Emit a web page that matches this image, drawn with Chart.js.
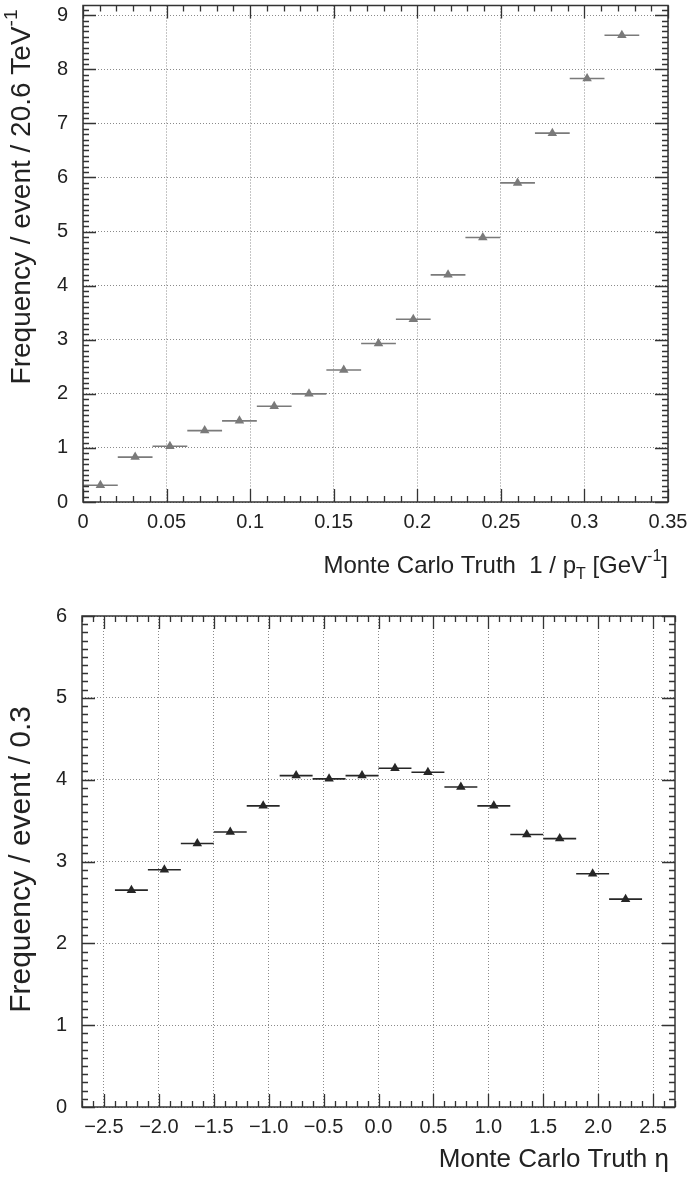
<!DOCTYPE html>
<html>
<head>
<meta charset="utf-8">
<title>Monte Carlo Truth</title>
<script src="https://cdn.jsdelivr.net/npm/chart.js@4.4.1/dist/chart.umd.min.js"></script>
<style>
    html, body { margin: 0; padding: 0; background: #fff; }
    .panel { position: absolute; left: 0; width: 689px; }
    #panel1 { top: 0; height: 590px; }
    #panel2 { top: 590px; height: 588px; }
</style>
</head>
<body>
<div class="panel" id="panel1"><canvas id="graph1"></canvas></div>
<div class="panel" id="panel2"><canvas id="graph2"></canvas></div>
<script>
// painel de cima: 1/pT
const ptCenters = [0.0104, 0.0312, 0.0520, 0.0728, 0.0936, 0.1144, 0.1352, 0.1560,
                   0.1768, 0.1976, 0.2184, 0.2392, 0.2600, 0.2808, 0.3016, 0.3224];
const ptValues = [0.31, 0.83, 1.03, 1.32, 1.50, 1.77, 2.00, 2.44,
                  2.93, 3.38, 4.20, 4.89, 5.90, 6.82, 7.83, 8.63];
const ptBinWidth = 0.0208;
const ptXTicks = [0, 0.05, 0.1, 0.15, 0.2, 0.25, 0.3, 0.35];
const ptYTicks = [0, 1, 2, 3, 4, 5, 6, 7, 8, 9];

// painel de baixo: eta
const etaCenters = [-2.25, -1.95, -1.65, -1.35, -1.05, -0.75, -0.45, -0.15,
                    0.15, 0.45, 0.75, 1.05, 1.35, 1.65, 1.95, 2.25];
const etaValues = [2.65, 2.90, 3.22, 3.36, 3.68, 4.05, 4.01, 4.05,
                   4.14, 4.09, 3.91, 3.68, 3.33, 3.28, 2.85, 2.54];
const etaBinWidth = 0.3;
const etaXTicks = [-2.5, -2, -1.5, -1, -0.5, 0, 0.5, 1, 1.5, 2, 2.5];
const etaYTicks = [0, 1, 2, 3, 4, 5, 6];

const FONT = '"Liberation Sans", Arial, Helvetica, sans-serif';
const TEXT = '#222';

// desenha texto com sub/sobrescrito, alinhado pela direita em (0,0)
function drawRich(ctx, parts, size) {
    const small = Math.round(size * 0.68);
    let total = 0;
    parts.forEach(p => {
        ctx.font = (p.sup || p.sub ? small : size) + 'px ' + FONT;
        p.w = ctx.measureText(p.t).width;
        total += p.w;
    });
    let x = -total;
    parts.forEach(p => {
        ctx.font = (p.sup || p.sub ? small : size) + 'px ' + FONT;
        let dy = 0;
        if (p.sup) dy = -size * 0.38;
        if (p.sub) dy = size * 0.36;
        ctx.fillText(p.t, x, dy);
        x += p.w;
    });
}

// moldura estilo ROOT: caixa, ticks para dentro, barras de erro horizontais
const rootFrame = {
    id: 'rootFrame',
    beforeDatasetsDraw(chart, args, opts) {
        const {ctx, scales: {x, y}} = chart;
        chart.data.datasets.forEach(ds => {
            ctx.save();
            ctx.strokeStyle = ds.borderColor;
            ctx.lineWidth = 1.6;
            ds.data.forEach(p => {
                const py = y.getPixelForValue(p.y);
                ctx.beginPath();
                ctx.moveTo(x.getPixelForValue(p.x - opts.binWidth / 2), py);
                ctx.lineTo(x.getPixelForValue(p.x + opts.binWidth / 2), py);
                ctx.stroke();
            });
            ctx.restore();
        });
    },
    afterDraw(chart, args, opts) {
        const {ctx, chartArea: a, scales: {x, y}} = chart;
        ctx.save();
        ctx.strokeStyle = '#333';
        ctx.lineWidth = 1.3;

        // ticks no eixo x (embaixo e em cima)
        const nx = Math.round((x.max - x.min) / opts.xMinor);
        for (let i = 0; i <= nx; i++) {
            const v = x.min + i * opts.xMinor;
            const isMajor = Math.abs(v / opts.xMajor - Math.round(v / opts.xMajor)) < 1e-6;
            const len = isMajor ? 13 : 6;
            const px = Math.round(x.getPixelForValue(v)) + 0.5;
            ctx.beginPath();
            ctx.moveTo(px, a.bottom); ctx.lineTo(px, a.bottom - len);
            ctx.moveTo(px, a.top); ctx.lineTo(px, a.top + len);
            ctx.stroke();
        }
        // ticks no eixo y (esquerda e direita)
        const ny = Math.floor((y.max - y.min) / opts.yMinor + 1e-6);
        for (let i = 0; i <= ny; i++) {
            const v = y.min + i * opts.yMinor;
            const isMajor = Math.abs(v / opts.yMajor - Math.round(v / opts.yMajor)) < 1e-6;
            const len = isMajor ? 13 : 6;
            const py = Math.round(y.getPixelForValue(v)) + 0.5;
            ctx.beginPath();
            ctx.moveTo(a.left, py); ctx.lineTo(a.left + len, py);
            ctx.moveTo(a.right, py); ctx.lineTo(a.right - len, py);
            ctx.stroke();
        }
        ctx.lineWidth = 1.5;
        ctx.strokeRect(a.left, a.top, a.width, a.height);

        // titulos dos eixos (alinhados no fim, como no ROOT)
        ctx.fillStyle = TEXT;
        ctx.textBaseline = 'middle';
        ctx.textAlign = 'left';
        ctx.save();
        ctx.translate(a.right + opts.xTitleShift, opts.xTitleY);
        drawRich(ctx, opts.xTitle, opts.xTitleSize);
        ctx.restore();
        ctx.save();
        ctx.translate(opts.yTitleX, a.top + opts.yTitleEnd);
        ctx.rotate(-Math.PI / 2);
        drawRich(ctx, opts.yTitle, opts.yTitleSize);
        ctx.restore();
        ctx.restore();
    }
};

function makeConfig(p) {
    return {
        type: 'scatter',
        data: {
            datasets: [{
                data: p.centers.map((c, i) => ({x: c, y: p.values[i]})),
                pointStyle: 'triangle',
                radius: 5.5,
                hoverRadius: 5.5,
                borderWidth: 0,
                backgroundColor: p.color,
                borderColor: p.color,
            }]
        },
        options: {
            responsive: true,
            maintainAspectRatio: false,
            animation: false,
            events: [],
            layout: { padding: p.padding },
            plugins: {
                legend: { display: false },
                tooltip: { enabled: false },
                rootFrame: p.frame
            },
            scales: {
                x: {
                    type: 'linear',
                    min: p.xMin,
                    max: p.xMax,
                    afterBuildTicks: s => { s.ticks = p.xTicks.map(v => ({value: v})); },
                    afterFit: s => { s.height = p.xScaleHeight; s.paddingLeft = 0; s.paddingRight = 0; },
                    border: { display: false, dash: [1, 2] },
                    grid: { color: '#8a8a8a', lineWidth: 1, drawTicks: false },
                    ticks: {
                        padding: 8,
                        color: TEXT,
                        font: { family: FONT, size: 20 },
                        maxRotation: 0,
                        autoSkip: false,
                        callback: p.xLabel
                    }
                },
                y: {
                    type: 'linear',
                    min: 0,
                    max: p.yMax,
                    afterBuildTicks: s => { s.ticks = p.yTicks.map(v => ({value: v})); },
                    afterFit: s => { s.width = p.yScaleWidth; s.paddingTop = 0; s.paddingBottom = 0; },
                    border: { display: false, dash: [1, 2] },
                    grid: { color: '#8a8a8a', lineWidth: 1, drawTicks: false },
                    ticks: {
                        padding: 15,
                        color: TEXT,
                        font: { family: FONT, size: 20 },
                        autoSkip: false,
                        callback: v => String(v)
                    }
                }
            }
        },
        plugins: [rootFrame]
    };
}

const chartPt = new Chart(document.getElementById('graph1'), makeConfig({
    centers: ptCenters,
    values: ptValues,
    color: '#7a7a7a',
    xMin: 0, xMax: 0.35, yMax: 9.18,
    xTicks: ptXTicks, yTicks: ptYTicks,
    xLabel: v => String(+v.toFixed(2)),
    padding: { top: 5, right: 21, left: 0, bottom: 0 },
    xScaleHeight: 88,
    yScaleWidth: 83,
    frame: {
        binWidth: ptBinWidth,
        xMinor: 0.01, xMajor: 0.05, yMinor: 0.1, yMajor: 1,
        xTitleSize: 24,
        xTitleShift: 0,
        xTitleY: 566,
        xTitle: [{t: 'Monte Carlo Truth  1 / p'}, {t: 'T', sub: true}, {t: ' [GeV'}, {t: '-1', sup: true}, {t: ']'}],
        yTitleSize: 28,
        yTitleX: 22,
        yTitleEnd: 4,
        yTitle: [{t: 'Frequency / event / 20.6 TeV'}, {t: '-1', sup: true}]
    }
}));

const chartEta = new Chart(document.getElementById('graph2'), makeConfig({
    centers: etaCenters,
    values: etaValues,
    color: '#262626',
    xMin: -2.7, xMax: 2.7, yMax: 6,
    xTicks: etaXTicks, yTicks: etaYTicks,
    xLabel: v => v.toFixed(1).replace('-', '\u2212'),
    padding: { top: 26, right: 14, left: 0, bottom: 0 },
    xScaleHeight: 71,
    yScaleWidth: 82,
    frame: {
        binWidth: etaBinWidth,
        xMinor: 0.1, xMajor: 0.5, yMinor: 0.1, yMajor: 1,
        xTitleSize: 26,
        xTitleShift: -6,
        xTitleY: 570,
        xTitle: [{t: 'Monte Carlo Truth \u03b7'}],
        yTitleSize: 30,
        yTitleX: 22,
        yTitleEnd: 90,
        yTitle: [{t: 'Frequency / event / 0.3'}]
    }
}));
</script>
</body>
</html>
